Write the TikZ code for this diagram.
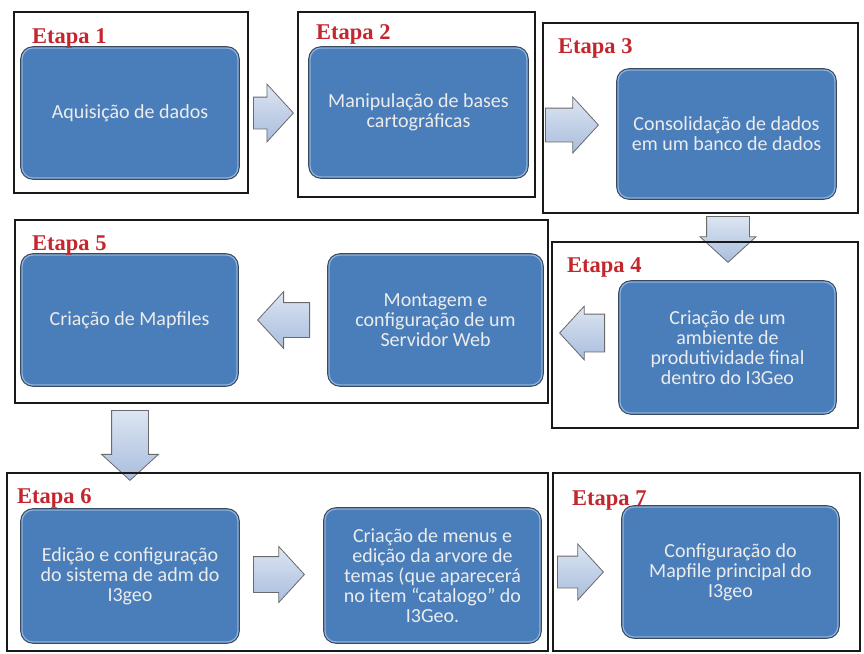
\documentclass[tikz,border=0pt]{standalone}
\usepackage{fontspec}
\setmainfont{Carlito}
\newfontfamily\etapafont{Liberation Serif}
\usetikzlibrary{shapes.arrows}
\definecolor{boxblue}{HTML}{4A7EBB}
\definecolor{boxedge}{HTML}{3A4A5E}
\definecolor{boxlight}{HTML}{8FB3E0}
\definecolor{etapared}{HTML}{C4262E}
\definecolor{arrowtop}{HTML}{DCE5F2}
\definecolor{arrowbot}{HTML}{A9BDDD}
\definecolor{arrowedge}{HTML}{6A6A6A}
\definecolor{boxtext}{HTML}{ECECEC}
\begin{document}
\begin{tikzpicture}[x=1pt,y=-1pt,
  frame/.style={draw=black!90, line width=1.5pt},
  stepbox/.style={rectangle, rounded corners=11pt, fill=boxblue, draw=boxlight, line width=1.2pt,
    preaction={draw=boxedge, line width=3.6pt},
    text=boxtext, align=center, inner sep=2pt,
    font=\fontsize{20}{20}\selectfont},
  etapa/.style={anchor=base west, text=etapared, inner sep=0pt,
    font=\etapafont\bfseries\fontsize{22.5}{24}\selectfont},
  blockarrow/.style={single arrow, anchor=tail, single arrow tip angle=95,
    top color=arrowtop, bottom color=arrowbot, draw=arrowedge, line width=0.8pt},
  harrow/.style={blockarrow, inner xsep=0pt, inner ysep=#1},
  varrow/.style={blockarrow, inner ysep=0pt, inner xsep=#1, shape border rotate=270}
]
\fill[white] (0,0) rectangle (864,653);
\useasboundingbox (0,0) rectangle (864,653);

% block arrows (placed by their tails)
\node[harrow=15.5pt, minimum height=40pt, single arrow head extend=13pt] (a1) at (253,113) {};
\node[harrow=16.5pt, minimum height=53pt, single arrow head extend=11pt] (a2) at (545,125) {};
\node[varrow=21pt, minimum height=46pt, single arrow head extend=6.5pt] (a3) at (728,216) {};
\node[harrow=18.5pt, minimum height=45pt, single arrow head extend=8pt, shape border rotate=180] (a4) at (605,333) {};
\node[harrow=17pt, minimum height=52pt, single arrow head extend=11pt, shape border rotate=180] (a5) at (310,320) {};
\node[varrow=18pt, minimum height=70pt, single arrow head extend=10pt] (a6) at (130,410) {};
\node[harrow=17.5pt, minimum height=51pt, single arrow head extend=10pt] (a7) at (253,574.5) {};
\node[harrow=15.5pt, minimum height=46pt, single arrow head extend=12pt] (a8) at (557,572) {};

% frames
\draw[frame] (14,12) rectangle (248,193);
\draw[frame] (298,12) rectangle (535,197);
\draw[frame] (543,23) rectangle (858,213);
\draw[frame] (552,242) rectangle (858,428);
\draw[frame] (15,220) rectangle (548,403);
\draw[frame] (7,473) rectangle (548,651);
\draw[frame] (553,473) rectangle (860,651);

% boxes
\node[stepbox, minimum width=216pt, minimum height=130pt] (b1) at (130,113) {Aquisição de dados};
\node[stepbox, minimum width=217pt, minimum height=129pt] (b2) at (418.5,112.5) {Manipulação de bases\\cartográficas};
\node[stepbox, minimum width=217pt, minimum height=128pt] (b3) at (726.5,134) {Consolidação de dados\\em um banco de dados};
\node[stepbox, minimum width=215pt, minimum height=131pt] (b4) at (727.5,347.5) {Criação de um\\ambiente de\\produtividade final\\dentro do I3Geo};
\node[stepbox, minimum width=213pt, minimum height=130pt] (bm) at (435.5,320) {Montagem e\\configuração de um\\Servidor Web};
\node[stepbox, minimum width=215pt, minimum height=130pt] (b5) at (129.5,320) {Criação de Mapfiles};
\node[stepbox, minimum width=216pt, minimum height=132pt] (b6) at (130,576) {Edição e configuração\\do sistema de adm do\\I3geo};
\node[stepbox, minimum width=215pt, minimum height=133pt] (b6b) at (432.5,575.5) {Criação de menus e\\edição da arvore de\\temas (que aparecerá\\no item “catalogo” do\\I3Geo.};
\node[stepbox, minimum width=215pt, minimum height=130pt] (b7) at (730.5,572) {Configuração do\\Mapfile principal do\\I3geo};

% labels
\node[etapa] (e1) at (32,43) {Etapa 1};
\node[etapa] (e2) at (316,39) {Etapa 2};
\node[etapa] (e3) at (558,53) {Etapa 3};
\node[etapa] (e4) at (567,272) {Etapa 4};
\node[etapa] (e5) at (32,250) {Etapa 5};
\node[etapa] (e6) at (17,503) {Etapa 6};
\node[etapa] (e7) at (572,505) {Etapa 7};
\end{tikzpicture}
\end{document}
